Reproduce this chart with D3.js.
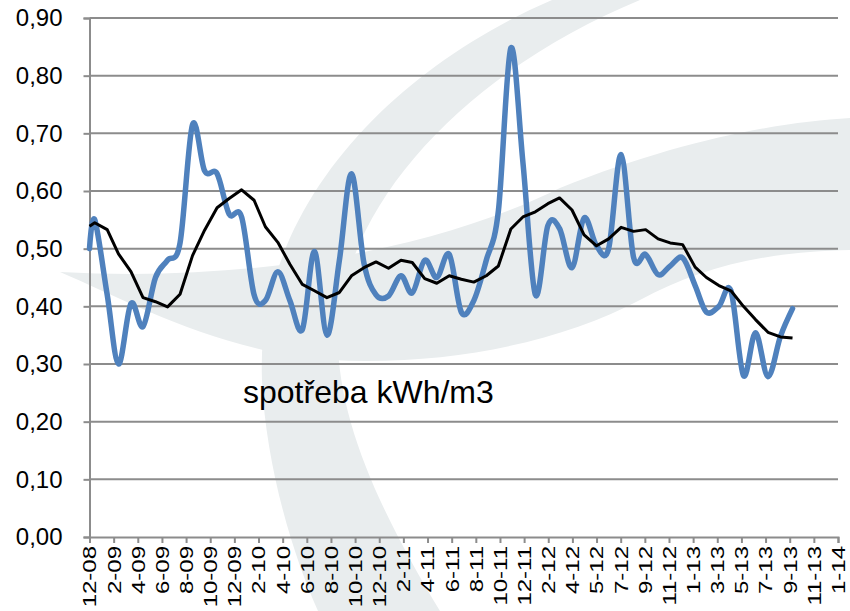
<!DOCTYPE html>
<html>
<head>
<meta charset="utf-8">
<script src="https://cdn.jsdelivr.net/npm/d3@7"></script>
<style>
  body { margin: 0; background: #fff; }
  svg { display: block; font-family: "Liberation Sans", Arial, sans-serif; }
</style>
</head>
<body>
<svg width="850" height="611"></svg>
<script>
// data (monthly readings, first one mid-December 2008)
const readingDates = [
  "2008-12-18", "2008-12-31",
  "2009-01-31", "2009-02-28", "2009-03-31", "2009-04-30", "2009-05-31", "2009-06-30",
  "2009-07-31", "2009-08-31", "2009-09-30", "2009-10-31", "2009-11-30", "2009-12-31",
  "2010-01-31", "2010-02-28", "2010-03-31", "2010-04-30", "2010-05-31", "2010-06-30",
  "2010-07-31", "2010-08-31", "2010-09-30", "2010-10-31", "2010-11-30", "2010-12-31",
  "2011-01-31", "2011-02-28", "2011-03-31", "2011-04-30", "2011-05-31", "2011-06-30",
  "2011-07-31", "2011-08-31", "2011-09-30", "2011-10-31", "2011-11-30", "2011-12-31",
  "2012-01-31", "2012-02-29", "2012-03-31", "2012-04-30", "2012-05-31", "2012-06-30",
  "2012-07-31", "2012-08-31", "2012-09-30", "2012-10-31", "2012-11-30", "2012-12-31",
  "2013-01-31", "2013-02-28", "2013-03-31", "2013-04-30", "2013-05-31", "2013-06-30",
  "2013-07-31", "2013-08-31", "2013-09-30"
];

// spotřeba kWh/m3 (blue, smoothed)
const spotreba = [
  0.50, 0.55,
  0.42, 0.30, 0.405, 0.365, 0.45, 0.48, 0.51, 0.715, 0.635, 0.63, 0.56, 0.555,
  0.42, 0.41, 0.46, 0.41, 0.36, 0.495, 0.35, 0.48, 0.63, 0.475, 0.42, 0.418,
  0.453, 0.423, 0.48, 0.45, 0.49, 0.39, 0.41, 0.48, 0.565, 0.848, 0.65, 0.42,
  0.54, 0.535, 0.467, 0.553, 0.505, 0.50, 0.663, 0.485, 0.49, 0.455, 0.47, 0.484,
  0.436, 0.39, 0.40, 0.427, 0.28, 0.354, 0.278, 0.348, 0.396
];

// moving average (black)
const prumer = [
  0.539, 0.545,
  0.533, 0.491, 0.46, 0.415, 0.408, 0.399, 0.421, 0.488, 0.532, 0.571, 0.587, 0.602,
  0.584, 0.538, 0.511, 0.473, 0.438, 0.427, 0.415, 0.424, 0.453, 0.467, 0.477, 0.466,
  0.480, 0.476, 0.448, 0.44, 0.453, 0.447, 0.442, 0.453, 0.47, 0.534, 0.555, 0.564,
  0.578, 0.588, 0.567, 0.524, 0.505, 0.517, 0.537, 0.530, 0.533, 0.517, 0.51, 0.507,
  0.468, 0.45, 0.436, 0.427, 0.40, 0.377, 0.355, 0.347, 0.345
];

// axis labels (date axis, one label every 60 days)
const tickLabels = [
  "12-08", "2-09", "4-09", "6-09", "8-09", "10-09", "12-09",
  "2-10", "4-10", "6-10", "8-10", "10-10", "12-10",
  "2-11", "4-11", "6-11", "8-11", "10-11", "12-11",
  "2-12", "4-12", "5-12", "7-12", "9-12", "11-12",
  "1-13", "3-13", "5-13", "7-13", "9-13", "11-13", "1-14"
];
const yTicks = [0, 0.1, 0.2, 0.3, 0.4, 0.5, 0.6, 0.7, 0.8, 0.9];
const seriesLabel = "spotřeba kWh/m3";

const svg = d3.select('svg');
const parse = d3.timeParse('%Y-%m-%d');
const dates = readingDates.map(parse);
const axisStart = dates[0];
const axisEnd = d3.timeDay.offset(axisStart, 60 * (tickLabels.length - 1));
const tickDates = tickLabels.map((l, i) => d3.timeDay.offset(axisStart, 60 * i));

const plot = { left: 89.5, right: 838, top: 18, bottom: 537 };

const x = d3.scaleTime().domain([axisStart, axisEnd]).range([plot.left, plot.right]);
const y = d3.scaleLinear().domain([0, 0.9]).range([plot.bottom, plot.top]);

// faint logo watermark in the background
const wm = svg.append('g').attr('fill', '#e9edee');
wm.append('path')
  .attr('d', 'M60,272 C250,282 430,252 560,188 C680,140 780,122 850,118 L850,250 ' +
             'C760,252 700,268 640,300 C560,342 450,366 330,360 C220,352 130,302 60,272 Z');
wm.append('path')
  .attr('d', 'M552,0 C390,70 255,210 262,380 C266,470 295,560 318,611 L440,611 ' +
             'C385,520 335,420 338,330 C345,200 470,70 640,0 Z');

// gridlines
svg.append('g').selectAll('line').data(yTicks.slice(1))
  .enter().append('line')
    .attr('x1', plot.left).attr('x2', plot.right)
    .attr('y1', d => y(d)).attr('y2', d => y(d))
    .attr('stroke', '#8c8c8c')
    .attr('stroke-width', 2);

// y axis
const yAxis = svg.append('g')
  .attr('transform', `translate(${plot.left},0)`)
  .call(d3.axisLeft(y).tickValues(yTicks).tickSize(6).tickPadding(21)
    .tickFormat(d => d3.format('.2f')(d).replace('.', ',')));
yAxis.selectAll('path, line').attr('stroke', '#8c8c8c').attr('stroke-width', 2);
yAxis.selectAll('text').attr('font-size', 24).attr('fill', '#000')
  .attr('font-family', '"Liberation Sans", Arial, sans-serif');

// x axis
const xAxis = svg.append('g')
  .attr('transform', `translate(0,${plot.bottom})`)
  .call(d3.axisBottom(x).tickValues(tickDates).tickSize(6)
    .tickFormat((d, i) => tickLabels[i]));
xAxis.selectAll('path, line').attr('stroke', '#8c8c8c').attr('stroke-width', 2);
xAxis.selectAll('text')
  .attr('font-size', 24).attr('fill', '#000')
  .attr('font-family', '"Liberation Sans", Arial, sans-serif')
  .attr('y', null).attr('dy', null)
  .attr('text-anchor', 'end')
  .attr('dominant-baseline', 'central')
  .attr('transform', 'translate(0,9) rotate(-90) scale(1,0.75)');

// lines
const blueLine = d3.line()
  .x((d, i) => x(dates[i]))
  .y(d => y(d))
  .curve(d3.curveCatmullRom.alpha(0));

svg.append('path')
  .datum(spotreba)
  .attr('d', blueLine)
  .attr('fill', 'none')
  .attr('stroke', '#4f81bd')
  .attr('stroke-width', 5.5)
  .attr('stroke-linejoin', 'round')
  .attr('stroke-linecap', 'round');

const blackLine = d3.line()
  .x((d, i) => x(dates[i]))
  .y(d => y(d));

svg.append('path')
  .datum(prumer)
  .attr('d', blackLine)
  .attr('fill', 'none')
  .attr('stroke', '#000')
  .attr('stroke-width', 3)
  .attr('stroke-linejoin', 'round');

// label inside the plot
svg.append('text')
  .attr('x', 243).attr('y', 403)
  .attr('font-size', 32)
  .attr('fill', '#000')
  .text(seriesLabel);
</script>
</body>
</html>
